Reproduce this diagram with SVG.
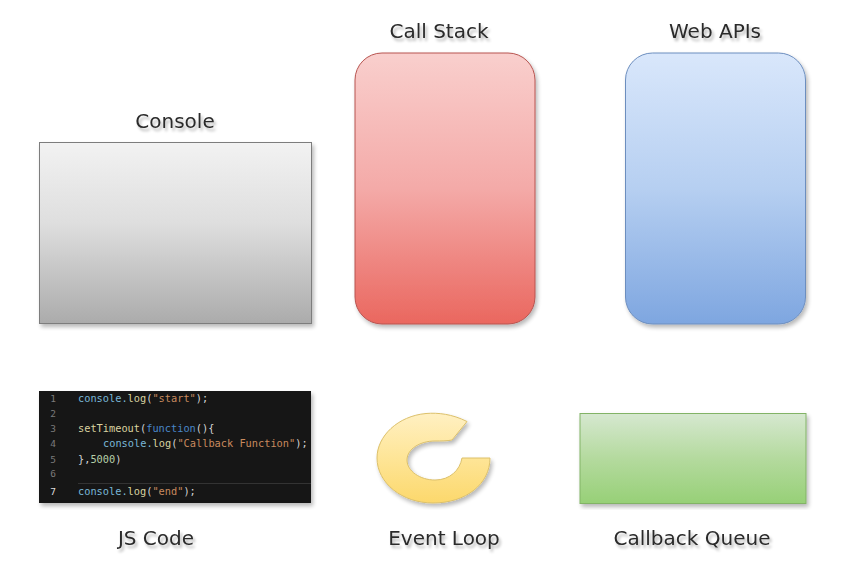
<svg xmlns="http://www.w3.org/2000/svg" width="842" height="581" viewBox="0 0 842 581">
<style>
.lbl{font-family:"DejaVu Sans",sans-serif;font-size:20px;fill:#2b2b2b;text-anchor:middle;filter:url(#ts)}
.code{font-family:"DejaVu Sans Mono","Liberation Mono",monospace;font-size:10.3px}
.num{font-family:"DejaVu Sans Mono",monospace;font-size:9.5px;fill:#7a7a7a;text-anchor:middle}
.c{fill:#79b8d8}.s{fill:#c98a5e}.f{fill:#d9d3a0}.k{fill:#4a86c8}.p{fill:#d4d4d4}.n{fill:#b5cea8}
</style>
<defs>
<filter id="sh" x="-5%" y="-5%" width="112%" height="112%"><feGaussianBlur in="SourceAlpha" stdDeviation="2.2"/><feOffset dx="2" dy="2.500"/><feComponentTransfer><feFuncA type="linear" slope=".28"/></feComponentTransfer><feMerge><feMergeNode/><feMergeNode in="SourceGraphic"/></feMerge></filter>
<filter id="ts" x="-5%" y="-20%" width="112%" height="150%"><feGaussianBlur in="SourceAlpha" stdDeviation="1.5"/><feOffset dx="2" dy="3"/><feComponentTransfer><feFuncA type="linear" slope=".3"/></feComponentTransfer><feMerge><feMergeNode/><feMergeNode in="SourceGraphic"/></feMerge></filter>
<linearGradient id="gGray" x1="0" y1="0" x2="0" y2="1"><stop offset="0" stop-color="#f2f2f2"/><stop offset=".45" stop-color="#dedede"/><stop offset="1" stop-color="#ababab"/></linearGradient>
<linearGradient id="gRed" x1="0" y1="0" x2="0" y2="1"><stop offset="0" stop-color="#f9cfcd"/><stop offset=".5" stop-color="#f4aaa8"/><stop offset="1" stop-color="#ea675f"/></linearGradient>
<linearGradient id="gBlue" x1="0" y1="0" x2="0" y2="1"><stop offset="0" stop-color="#d9e7fb"/><stop offset=".5" stop-color="#b6cff1"/><stop offset="1" stop-color="#7ea6e0"/></linearGradient>
<linearGradient id="gGreen" x1="0" y1="0" x2="0" y2="1"><stop offset="0" stop-color="#d6e8d0"/><stop offset=".5" stop-color="#b4da9e"/><stop offset="1" stop-color="#97d077"/></linearGradient>
<linearGradient id="gYel" x1="0" y1="0" x2="0" y2="1"><stop offset="0" stop-color="#fff0c2"/><stop offset=".5" stop-color="#fee597"/><stop offset="1" stop-color="#fcd86c"/></linearGradient>
</defs>
<rect width="842" height="581" fill="#fff"/>
<g id="console"><rect x="39.500" y="142.500" width="272" height="181" fill="url(#gGray)" stroke="#7d7d7d" filter="url(#sh)"/><text class="lbl" x="175" y="128">Console</text></g>
<g id="call-stack"><rect x="355" y="53" width="180" height="271" rx="27" fill="url(#gRed)" stroke="#b85450" filter="url(#sh)"/><text class="lbl" x="439" y="38">Call Stack</text></g>
<g id="web-apis"><rect x="625.500" y="53" width="180" height="271" rx="27" fill="url(#gBlue)" stroke="#6c8ebf" filter="url(#sh)"/><text class="lbl" x="715" y="38">Web APIs</text></g>
<g id="js-code"><rect x="39" y="391" width="272" height="112" fill="#171718" filter="url(#sh)"/>
<path d="M78 483.500H311" stroke="#333"/>
<text class="num" x="53" y="402">1</text><text class="num" x="53" y="417">2</text><text class="num" x="53" y="432">3</text><text class="num" x="53" y="447">4</text><text class="num" x="53" y="463">5</text><text class="num" x="53" y="477">6</text><text class="num" x="53" y="495" style="fill:#ddd">7</text>
<text class="code" x="78" y="402"><tspan class="c">console.</tspan><tspan class="f">log</tspan><tspan class="p">(</tspan><tspan class="s">"start"</tspan><tspan class="p">);</tspan></text>
<text class="code" x="78" y="432"><tspan class="f">setTimeout</tspan><tspan class="p">(</tspan><tspan class="k">function</tspan><tspan class="p">(){</tspan></text>
<text class="code" x="103" y="447"><tspan class="c">console.</tspan><tspan class="f">log</tspan><tspan class="p">(</tspan><tspan class="s">"Callback Function"</tspan><tspan class="p">);</tspan></text>
<text class="code" x="78" y="463"><tspan class="p">},</tspan><tspan class="n">5000</tspan><tspan class="p">)</tspan></text>
<text class="code" x="78" y="495"><tspan class="c">console.</tspan><tspan class="f">log</tspan><tspan class="p">(</tspan><tspan class="s">"end"</tspan><tspan class="p">);</tspan></text>
<text class="lbl" x="156" y="545">JS Code</text></g>
<g id="event-loop"><path d="M467 421.500C452 414 438 412.500 426 413.500C398 416 377 436 377 458C377 483 402 503 433 503C466 503 490 484 490 458L462 458C460 470 450 480 435 480C420 480 407 471 407 460C407 449 420 441 435 441C441 441 447 441 452 440Z" fill="url(#gYel)" stroke="#dcc06a" filter="url(#sh)"/><text class="lbl" x="444" y="545">Event Loop</text></g>
<g id="callback-queue"><rect x="580" y="413.500" width="226" height="90" fill="url(#gGreen)" stroke="#82b366" filter="url(#sh)"/><text class="lbl" x="692" y="545">Callback Queue</text></g>
<g id="connectors"/>
</svg>
